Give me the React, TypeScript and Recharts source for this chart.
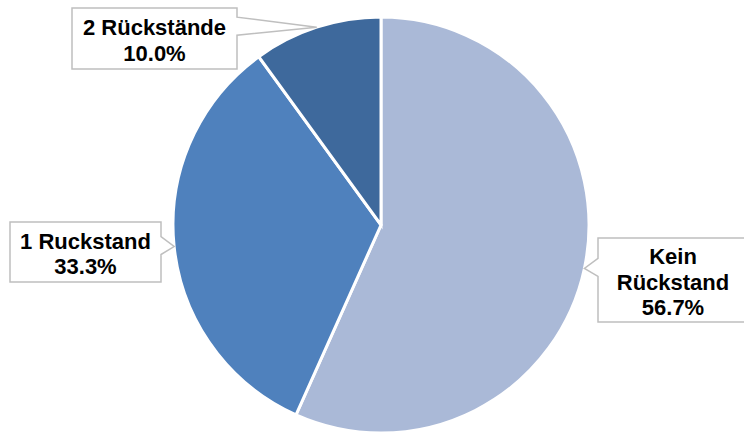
import { Pie, PieChart, Cell } from "recharts";

const CATEGORIES = ["Kein Rückstand", "1 Ruckstand", "2 Rückstände"];
const SHARES = [56.7, 33.3, 10.0];
const LABEL_LINES = [["Kein", "Rückstand"], ["1 Ruckstand"], ["2 Rückstände"]];
const COLORS = ["#AAB9D7", "#4F81BD", "#3E699C"];

const DATA = CATEGORIES.map((name, i) => ({ name, value: SHARES[i], lines: LABEL_LINES[i] }));

// callout boxes (x, y, w, h) placed like the excel original
const BOXES: Record<string, [number, number, number, number]> = {
  "Kein Rückstand": [598, 238, 150, 84],
  "1 Ruckstand": [10, 222, 151, 60],
  "2 Rückstände": [72, 8, 165, 61],
};

const RAD = Math.PI / 180;

function Callout(props: any) {
  const { cx, cy, midAngle, outerRadius, payload, value } = props;
  const box = BOXES[payload.name];
  if (!box) return null;
  const [x0, y0, w, h] = box;
  const x1 = x0 + w;
  const y1 = y0 + h;
  const tx = cx + outerRadius * Math.cos(-midAngle * RAD);
  const ty = cy + outerRadius * Math.sin(-midAngle * RAD);
  const b0 = Math.max(y0 + 3, Math.min(ty - 10, y1 - 23));
  const b1 = b0 + 18;
  const d =
    tx > x1
      ? `M${x0},${y0} H${x1} V${b0} L${tx},${ty} L${x1},${b1} V${y1} H${x0} Z`
      : `M${x0},${y0} H${x1} V${y1} H${x0} V${b1} L${tx},${ty} L${x0},${b0} Z`;
  const lines: string[] = [...payload.lines, `${Number(value).toFixed(1)}%`];
  const lh = 25.5;
  const top = y0 + h / 2 - ((lines.length - 1) * lh) / 2 + 2;
  return (
    <g>
      <path d={d} fill="#FFFFFF" stroke="#BFBFBF" strokeWidth={1.5} />
      <text
        x={x0 + w / 2}
        textAnchor="middle"
        fontFamily="'Liberation Sans', Arial, sans-serif"
        fontWeight="bold"
        fontSize={22}
        fill="#000000"
      >
        {lines.map((l, i) => (
          <tspan key={i} x={x0 + w / 2} y={top + i * lh} dominantBaseline="central">
            {l}
          </tspan>
        ))}
      </text>
    </g>
  );
}

export default function App() {
  return (
    <div style={{ width: 744, height: 432 }}>
      <style>{"body{margin:0}"}</style>
      <PieChart width={744} height={432} margin={{ top: 0, right: 0, bottom: 0, left: 0 }}>
        <Pie
          data={DATA}
          dataKey="value"
          nameKey="name"
          cx={381}
          cy={225}
          outerRadius={208}
          startAngle={90}
          endAngle={-270}
          stroke="#FFFFFF"
          strokeWidth={3}
          label={Callout}
          labelLine={false}
          isAnimationActive={false}
        >
          {DATA.map((d, i) => (
            <Cell key={d.name} fill={COLORS[i]} />
          ))}
        </Pie>
      </PieChart>
    </div>
  );
}
